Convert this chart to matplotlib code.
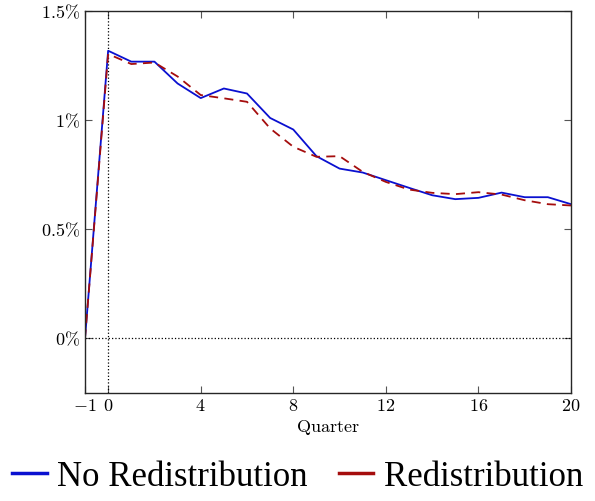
import numpy as np
import matplotlib
matplotlib.use("Agg")
import matplotlib.pyplot as plt
from matplotlib.lines import Line2D

plt.rcParams['mathtext.fontset'] = 'cm'
plt.rcParams['font.family'] = ['Liberation Serif', 'DejaVu Serif']

# quarters and impulse responses (percent)
quarters = list(range(-1, 21))
no_redist = [0.0, 1.318, 1.268, 1.268, 1.168, 1.101, 1.145, 1.122, 1.010, 0.957,
             0.835, 0.778, 0.760, 0.725, 0.690, 0.656, 0.638, 0.644, 0.668, 0.647,
             0.647, 0.615]
redist = [0.0, 1.303, 1.257, 1.264, 1.200, 1.115, 1.100, 1.084, 0.962, 0.878,
          0.832, 0.835, 0.763, 0.717, 0.682, 0.667, 0.661, 0.670, 0.659, 0.633,
          0.615, 0.609]
xticks = [-1, 0, 4, 8, 12, 16, 20]
yticks = [0, 0.5, 1, 1.5]
ytick_labels = [r'$0\%$', r'$0.5\%$', r'$1\%$', r'$1.5\%$']

fig = plt.figure(figsize=(5.95, 5.01), dpi=100)
ax = fig.add_axes([85/595, 1 - 393/501, (571-85)/595, (393-11)/501])

ax.axvline(0, color='black', linestyle=':', linewidth=0.9)
ax.axhline(0, color='black', linestyle=':', linewidth=0.9)
ax.plot(quarters, no_redist, color='#0a10d0', linewidth=1.3)
ax.plot(quarters, redist, color='#a50d0d', linewidth=1.3, linestyle=(0, (5, 3.5)))

ax.set_xlim(-1, 20)
ax.set_ylim(-0.25, 1.5)
ax.set_xticks(xticks)
ax.set_xticklabels([r'$%d$' % t for t in xticks])
ax.set_yticks(yticks)
ax.set_yticklabels(ytick_labels)
ax.tick_params(direction='in', top=True, right=True, length=5, width=0.8,
               labelsize=13, color='#555555')
for s in ax.spines.values():
    s.set_linewidth(1.0)
    s.set_color('#262626')
ax.set_xlabel(r'$\mathrm{Quarter}$', fontsize=13, labelpad=2)

handles = [Line2D([], [], color='#0a10d0', linewidth=2.5),
           Line2D([], [], color='#a50d0d', linewidth=2.5)]
fig.legend(handles, ['No Redistribution', 'Redistribution'], loc='center',
           bbox_to_anchor=(0.5, 1 - 477/501), ncol=2, frameon=False,
           fontsize=25, handlelength=1.0, handletextpad=0.3, columnspacing=0.9)

fig.savefig('out.png', dpi=100)
